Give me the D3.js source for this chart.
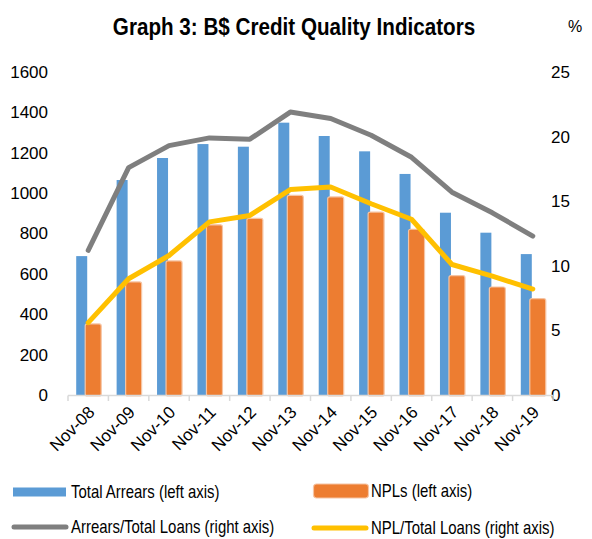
<!DOCTYPE html>
<html>
<head>
<meta charset="utf-8">
<title>Graph 3: B$ Credit Quality Indicators</title>
<script src="https://cdn.jsdelivr.net/npm/d3@7"></script>
<style>
  body { margin: 0; background: #fff; }
  text { font-family: "Liberation Sans", Arial, sans-serif; fill: #000; }
</style>
</head>
<body>
<svg width="592" height="539"></svg>
<script>
// data
var months = ['Nov-08', 'Nov-09', 'Nov-10', 'Nov-11', 'Nov-12', 'Nov-13',
              'Nov-14', 'Nov-15', 'Nov-16', 'Nov-17', 'Nov-18', 'Nov-19'];
var totalArrears = [688, 1065, 1174, 1243, 1230, 1349, 1283, 1207, 1095, 903, 804, 698];
var npls = [352, 560, 664, 843, 875, 989, 981, 906, 821, 591, 535, 477];
var arrearsRatio = [11.2, 17.6, 19.3, 19.9, 19.8, 21.9, 21.4, 20.1, 18.4, 15.7, 14.1, 12.3];
var nplRatio = [5.6, 9.0, 10.8, 13.4, 13.9, 15.9, 16.1, 14.8, 13.6, 10.1, 9.2, 8.2];
var leftTicks = [0, 200, 400, 600, 800, 1000, 1200, 1400, 1600];
var rightTicks = [0, 5, 10, 15, 20, 25];

var svg = d3.select('svg');

var x = d3.scaleBand().domain(months).range([68, 553]);
var yLeft = d3.scaleLinear().domain([0, 1600]).range([395, 72]);
var yRight = d3.scaleLinear().domain([0, 25]).range([395, 72]);

var blue = '#5b9bd5', orange = '#ed7d31', grey = '#7f7f7f', yellow = '#ffc000';

function mid(d) { return x(d) + x.bandwidth() / 2; }

// title (squeezed, the original uses a narrow face)
svg.append('text')
  .attr('transform', 'translate(294,35) scale(0.86,1)')
  .attr('text-anchor', 'middle')
  .style('font-size', '24px').style('font-weight', 'bold')
  .text('Graph 3: B$ Credit Quality Indicators');

svg.append('text')
  .attr('x', 575).attr('y', 32)
  .attr('text-anchor', 'middle')
  .style('font-size', '16px')
  .text('%');

// axes
var left = svg.append('g')
  .attr('transform', 'translate(56,0)')
  .call(d3.axisLeft(yLeft).tickValues(leftTicks).tickFormat(d3.format('d')).tickSize(0).tickPadding(8));
left.select('.domain').remove();

var right = svg.append('g')
  .attr('transform', 'translate(545,0)')
  .call(d3.axisRight(yRight).tickValues(rightTicks).tickFormat(d3.format('d')).tickSize(0).tickPadding(6));
right.select('.domain').remove();

svg.selectAll('.tick text')
  .style('font-size', '17px')
  .style('font-family', '"Liberation Sans", Arial, sans-serif');

// bars
svg.append('g').selectAll('rect')
  .data(months)
  .enter()
  .append('rect')
  .attr('x', function(d) { return mid(d) - 12; })
  .attr('width', 11)
  .attr('y', function(d, i) { return yLeft(totalArrears[i]); })
  .attr('height', function(d, i) { return yLeft(0) - yLeft(totalArrears[i]); })
  .style('fill', blue);

svg.append('g').selectAll('rect')
  .data(months)
  .enter()
  .append('rect')
  .attr('x', function(d) { return mid(d) - 3; })
  .attr('width', 16)
  .attr('y', function(d, i) { return yLeft(npls[i]); })
  .attr('height', function(d, i) { return yLeft(0) - yLeft(npls[i]) + 1; })
  .attr('rx', 2)
  .style('fill', orange)
  .style('stroke', '#f6c4a3')
  .style('stroke-width', 1.2);

// category axis
var xAxis = svg.append('g');
xAxis.append('line')
  .attr('x1', x.range()[0]).attr('x2', x.range()[1])
  .attr('y1', 395.5).attr('y2', 395.5)
  .style('stroke', '#d9d9d9').style('stroke-width', 1.5);
xAxis.selectAll('.tk')
  .data(months.concat(['end']))
  .enter()
  .append('line')
  .attr('x1', function(d) { return d === 'end' ? x.range()[1] : x(d); })
  .attr('x2', function(d) { return d === 'end' ? x.range()[1] : x(d); })
  .attr('y1', 395.5).attr('y2', 401)
  .style('stroke', '#d9d9d9').style('stroke-width', 1.5);

xAxis.selectAll('.lbl')
  .data(months)
  .enter()
  .append('text')
  .attr('transform', function(d) { return 'translate(' + (mid(d) - 1) + ',405) rotate(-45)'; })
  .attr('text-anchor', 'end')
  .attr('dy', '0.7em')
  .style('font-size', '17px')
  .text(function(d) { return d; });

// lines
var ratioLine = d3.line()
  .x(function(d, i) { return mid(months[i]); })
  .y(function(d) { return yRight(d); });

svg.append('path')
  .datum(arrearsRatio)
  .attr('d', ratioLine)
  .style('fill', 'none')
  .style('stroke', grey)
  .style('stroke-width', 5)
  .style('stroke-linecap', 'round')
  .style('stroke-linejoin', 'round');

svg.append('path')
  .datum(nplRatio)
  .attr('d', ratioLine)
  .style('fill', 'none')
  .style('stroke', yellow)
  .style('stroke-width', 5)
  .style('stroke-linecap', 'round')
  .style('stroke-linejoin', 'round');

// legend
var legendItems = [
  { name: 'Total Arrears (left axis)', type: 'bar', color: blue, lx: 13, ly: 492 },
  { name: 'NPLs (left axis)', type: 'bar2', color: orange, lx: 313, ly: 491 },
  { name: 'Arrears/Total Loans (right axis)', type: 'line', color: grey, lx: 13, ly: 527 },
  { name: 'NPL/Total Loans (right axis)', type: 'line', color: yellow, lx: 313, ly: 528 }
];

var legend = svg.append('g').selectAll('g')
  .data(legendItems)
  .enter()
  .append('g')
  .attr('transform', function(d) { return 'translate(' + d.lx + ',' + d.ly + ')'; });

legend.filter(function(d) { return d.type === 'bar'; })
  .append('rect')
  .attr('x', 0).attr('y', -4.5).attr('width', 53).attr('height', 9)
  .style('fill', function(d) { return d.color; });

legend.filter(function(d) { return d.type === 'bar2'; })
  .append('rect')
  .attr('x', 0.5).attr('y', -7).attr('width', 55).attr('height', 14).attr('rx', 3)
  .style('fill', function(d) { return d.color; })
  .style('stroke', '#f6c4a3').style('stroke-width', 1.2);

legend.filter(function(d) { return d.type === 'line'; })
  .append('line')
  .attr('x1', 1).attr('x2', 53).attr('y1', 0).attr('y2', 0)
  .style('stroke', function(d) { return d.color; })
  .style('stroke-width', 5)
  .style('stroke-linecap', 'round');

legend.append('text')
  .attr('transform', 'translate(58,0) scale(0.83,1)')
  .attr('dy', '0.35em')
  .style('font-size', '18px')
  .text(function(d) { return d.name; });
</script>
</body>
</html>
